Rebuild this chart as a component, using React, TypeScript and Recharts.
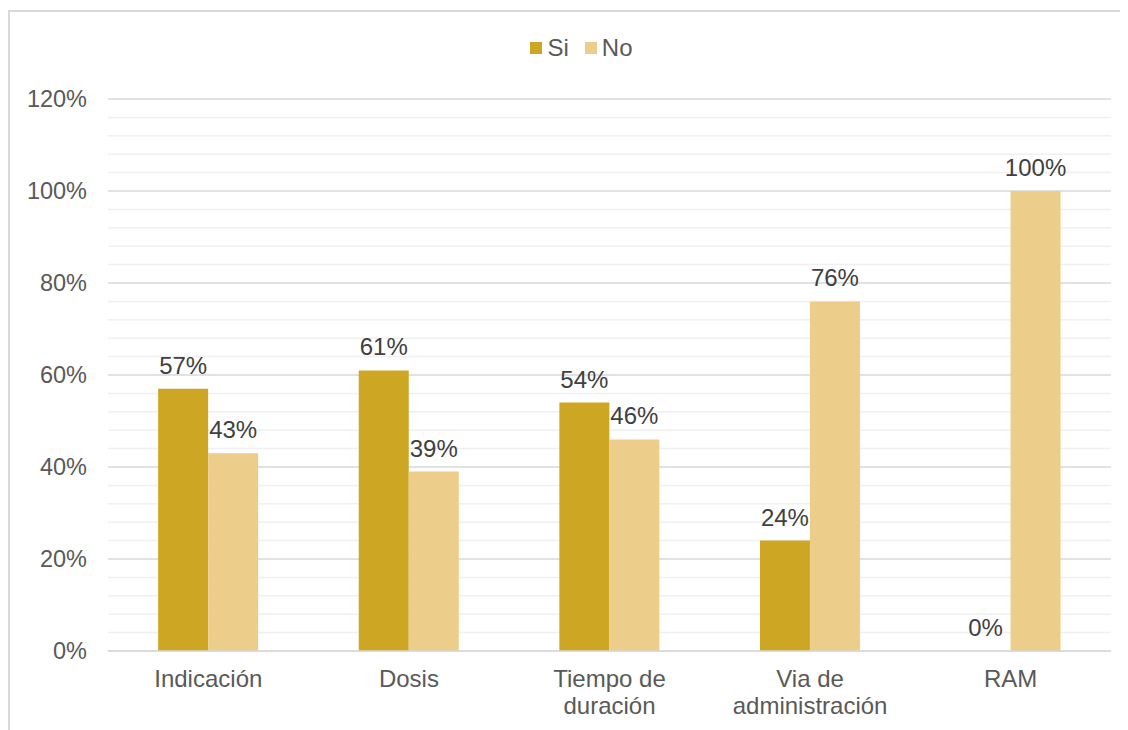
import { Bar, BarChart, CartesianGrid, Cell, LabelList, Legend, XAxis, YAxis } from "recharts";

const categories = ["Indicación", "Dosis", "Tiempo de\nduración", "Via de\nadministración", "RAM"];
const si = [57, 61, 54, 24, 0];
const no = [43, 39, 46, 76, 100];
const yTicks = [0, 20, 40, 60, 80, 100, 120];
const minorLines = [4, 8, 12, 16, 24, 28, 32, 36, 44, 48, 52, 56, 64, 68, 72, 76, 84, 88, 92, 96, 104, 108, 112, 116];

const data = categories.map((name, i) => ({ name, si: si[i], no: no[i] }));

const FONT = "'Liberation Sans', Arial, sans-serif";
const SI_COLOR = "#CDA624";
const NO_COLOR = "#ECCE8A";

function CategoryTick(props: any) {
  const { x, y, payload } = props;
  const lines = String(payload.value).split("\n");
  return (
    <text x={x} y={y} textAnchor="middle" fill="#595959" fontSize={24} fontFamily={FONT}>
      {lines.map((line, i) => (
        <tspan key={i} x={x} dy={i === 0 ? "0.71em" : 27}>
          {line}
        </tspan>
      ))}
    </text>
  );
}

function LegendContent() {
  const items = [
    { label: "Si", color: SI_COLOR },
    { label: "No", color: NO_COLOR },
  ];
  return (
    <div style={{ height: 66, paddingLeft: 44, boxSizing: "border-box" }}>
      <div style={{ display: "flex", justifyContent: "center", gap: 16, fontFamily: FONT, fontSize: 24, color: "#595959", height: 30, alignItems: "center" }}>
        {items.map((it) => (
          <div key={it.label} style={{ display: "flex", alignItems: "center" }}>
            <span style={{ width: 12, height: 12, background: it.color, display: "inline-block", marginRight: 5 }} />
            <span>{it.label}</span>
          </div>
        ))}
      </div>
    </div>
  );
}

export default function App() {
  return (
    <div style={{ position: "relative", width: 1120, height: 722, overflow: "hidden" }}>
      <div
        style={{
          position: "absolute",
          left: 0,
          top: 2,
          width: 1200,
          height: 800,
          borderLeft: "2px solid #d9d9d9",
          borderTop: "2px solid #d9d9d9",
        }}
      />
      <BarChart
        width={1112}
        height={714}
        data={data}
        margin={{ top: 25, right: 9, bottom: 11, left: 0 }}
        barCategoryGap="25%"
        barGap={0}
        style={{ position: "absolute", left: 0, top: 0 }}
      >
        <CartesianGrid vertical={false} horizontalValues={minorLines} stroke="#f0f0f0" strokeWidth={1.5} />
        <CartesianGrid vertical={false} stroke="#d9d9d9" strokeWidth={1.5} />
        <XAxis
          dataKey="name"
          height={60}
          interval={0}
          tickLine={false}
          axisLine={{ stroke: "#d9d9d9", strokeWidth: 1.5 }}
          tickSize={0}
          tickMargin={19}
          tick={<CategoryTick />}
        />
        <YAxis
          width={100}
          domain={[0, 120]}
          ticks={yTicks}
          interval={0}
          tickFormatter={(v) => `${v}%`}
          axisLine={false}
          tickLine={false}
          tickSize={0}
          tickMargin={21}
          tick={{ fill: "#595959", fontSize: 23.5, fontFamily: FONT }}
        />
        <Legend verticalAlign="top" content={<LegendContent />} />
        <Bar dataKey="si" name="Si" fill={SI_COLOR} minPointSize={0.5} isAnimationActive={false}>
          {si.map((v, i) => (
            <Cell key={`si-${i}`} fill={SI_COLOR} fillOpacity={v === 0 ? 0 : 1} />
          ))}
          <LabelList dataKey="si" position="top" offset={15} formatter={(v: any) => `${v}%`} fill="#404040" fontSize={24} fontFamily={FONT} />
        </Bar>
        <Bar dataKey="no" name="No" fill={NO_COLOR} isAnimationActive={false}>
          <LabelList dataKey="no" position="top" offset={15} formatter={(v: any) => `${v}%`} fill="#404040" fontSize={24} fontFamily={FONT} />
        </Bar>
      </BarChart>
    </div>
  );
}
